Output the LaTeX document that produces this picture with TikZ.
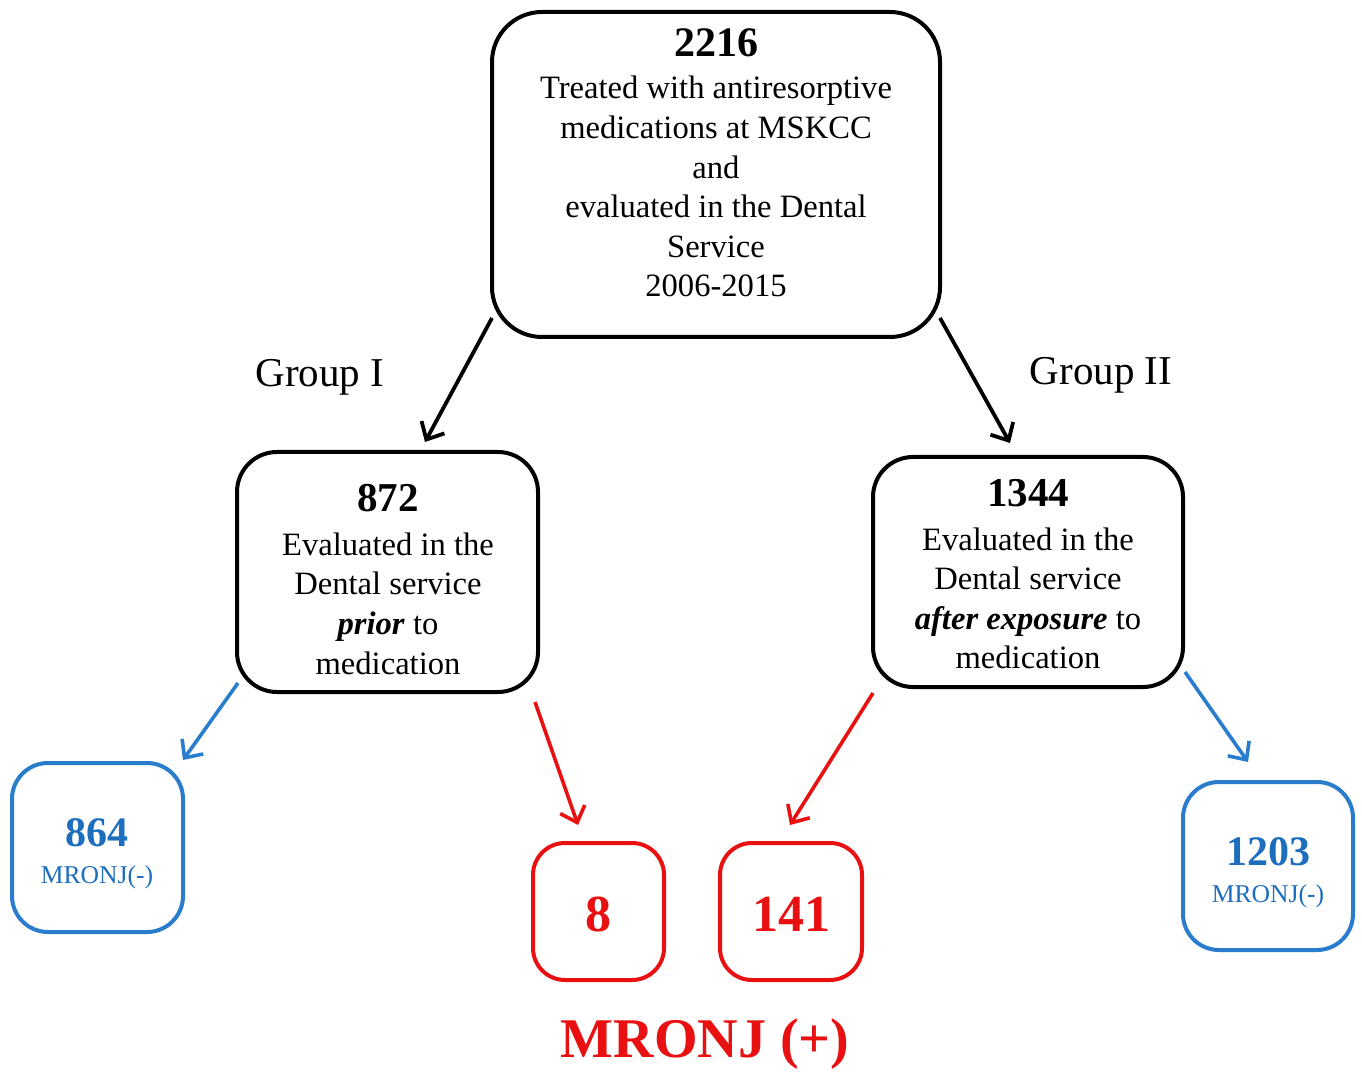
\documentclass[tikz,border=0pt]{standalone}
\usepackage{fontspec}
\setmainfont{Liberation Serif}
\usetikzlibrary{arrows.meta}
\definecolor{myblue}{RGB}{42,125,205}
\definecolor{bluetext}{RGB}{30,110,190}
\definecolor{myred}{RGB}{232,16,16}
\begin{document}
\begin{tikzpicture}[x=0.5pt,y=-0.5pt,
  box/.style={draw, line width=2pt, rounded corners=25pt, inner sep=0pt},
  bluebox/.style={draw=myblue, line width=2pt, rounded corners=18pt, inner sep=0pt},
  redbox/.style={draw=myred, line width=2pt, rounded corners=16pt, inner sep=0pt},
  txt/.style={align=center, inner sep=0pt, font=\fontsize{16.3}{19.8}\selectfont},
  grp/.style={inner sep=0pt, font=\fontsize{20.5}{24}\selectfont},
  blk/.style={-{Straight Barb[length=7pt,width=13pt]}, line width=1.9pt, black},
  blu/.style={-{Straight Barb[length=7pt,width=13pt]}, line width=1.8pt, myblue},
  rd/.style={-{Straight Barb[length=7pt,width=13pt]}, line width=1.8pt, myred}]
\useasboundingbox (0,0) rectangle (1362,1075);
\fill[white] (0,0) rectangle (1362,1075);

% top box
\node[box, minimum width=224pt, minimum height=162.5pt] (top) at (716,174.5) {};
\node[txt, anchor=north] (toptext) at (716,28) {{\fontsize{21}{21}\bfseries\selectfont 2216}\\[1.5pt]
Treated with antiresorptive\\ medications at MSKCC\\ and\\ evaluated in the Dental\\ Service\\ 2006-2015};

% group boxes
\node[box, rounded corners=20pt, minimum width=150.5pt, minimum height=120pt] (g1) at (387.5,572) {};
\node[txt, anchor=north] (g1text) at (388,484) {{\fontsize{20.5}{20.5}\bfseries\selectfont 872}\\[2pt]
Evaluated in the\\ Dental service\\ \textbf{\textit{prior}} to\\ medication};

\node[box, rounded corners=20pt, minimum width=155pt, minimum height=115pt] (g2) at (1028,572) {};
\node[txt, anchor=north] (g2text) at (1028,479) {{\fontsize{20.5}{20.5}\bfseries\selectfont 1344}\\[2pt]
Evaluated in the\\ Dental service\\ \textbf{\textit{after exposure}} to\\ medication};

\node[grp] (lab1) at (320,377) {Group I};
\node[grp] (lab2) at (1101,375) {Group II};

% outcome boxes
\node[bluebox, minimum width=85.5pt, minimum height=84.5pt] (n864) at (97.5,847.5) {};
\node[txt, anchor=north, text=bluetext] (t864) at (97,818) {{\fontsize{21}{21}\bfseries\selectfont 864}\\[-1pt]
{\fontsize{12.8}{14}\selectfont MRONJ(-)}};

\node[bluebox, minimum width=85pt, minimum height=84pt] (n1203) at (1268,866) {};
\node[txt, anchor=north, text=bluetext] (t1203) at (1268,837) {{\fontsize{21}{21}\bfseries\selectfont 1203}\\[-1pt]
{\fontsize{12.8}{14}\selectfont MRONJ(-)}};

\node[redbox, minimum width=65.5pt, minimum height=68.5pt] (n8) at (598.5,911.5) {};
\node[inner sep=0pt, text=myred, font=\fontsize{26}{26}\bfseries\selectfont] (t8) at (598,914) {8};

\node[redbox, minimum width=71pt, minimum height=68.5pt] (n141) at (791,911.5) {};
\node[inner sep=0pt, text=myred, font=\fontsize{26}{26}\bfseries\selectfont] (t141) at (791,914) {141};

\node[inner sep=0pt, text=myred, font=\fontsize{28}{28}\bfseries\selectfont] (plus) at (705,1044) {MRONJ (+)};

% arrow coordinates
\coordinate (a1s) at (492,318);
\coordinate (a1e) at (425,442);
\coordinate (a2s) at (940,318);
\coordinate (a2e) at (1010,443);
\coordinate (b1s) at (238,683);
\coordinate (b1e) at (183,760);
\coordinate (b2s) at (1185,672);
\coordinate (b2e) at (1248,762);
\coordinate (r1s) at (535,702);
\coordinate (r1e) at (578,825);
\coordinate (r2s) at (873,693);
\coordinate (r2e) at (790,825);

\draw[blk] (a1s) -- (a1e);
\draw[blk] (a2s) -- (a2e);
\draw[blu] (b1s) -- (b1e);
\draw[blu] (b2s) -- (b2e);
\draw[rd] (r1s) -- (r1e);
\draw[rd] (r2s) -- (r2e);
\end{tikzpicture}
\end{document}
